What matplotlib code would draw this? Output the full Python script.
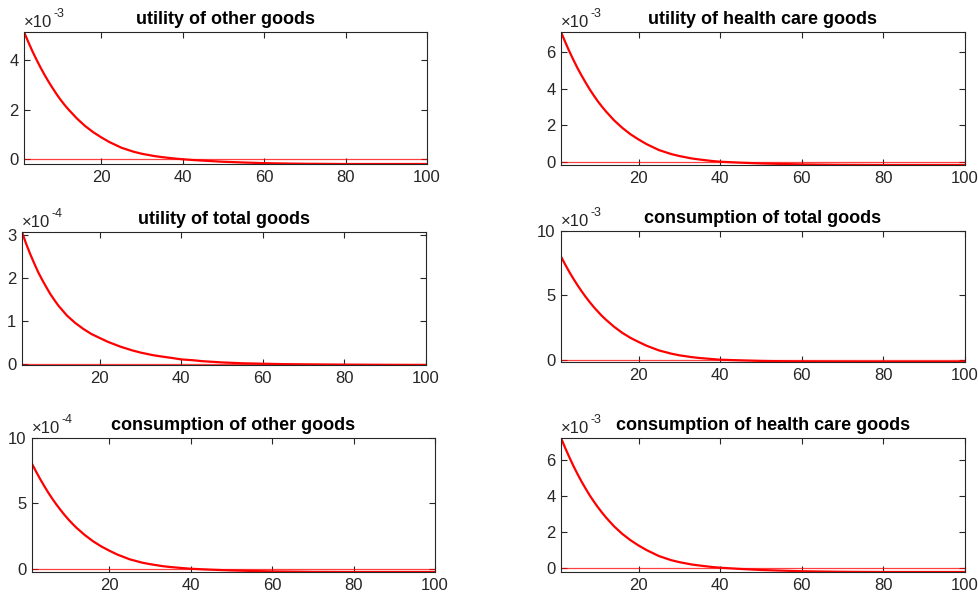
import matplotlib
matplotlib.use("Agg")
import matplotlib.pyplot as plt

plt.rcParams['font.family'] = ['Liberation Sans', 'DejaVu Sans']

periodos = [1, 2, 3, 4, 5, 6, 7, 8, 9, 10, 11, 12, 14, 16, 18, 20, 22, 25, 28, 30,
            33, 35, 38, 40, 43, 45, 50, 55, 60, 65, 70, 80, 90, 100]

# responses (in units of the axis exponent)
util_otros = [5.12, 4.74, 4.37, 4.03, 3.71, 3.41, 3.13, 2.87, 2.62, 2.39, 2.18, 1.99,
              1.64, 1.34, 1.09, 0.88, 0.69, 0.46, 0.30, 0.22, 0.13, 0.085, 0.03, 0.0,
              -0.035, -0.055, -0.10, -0.13, -0.155, -0.17, -0.18, -0.19, -0.19, -0.19]
util_salud = [7.11, 6.58, 6.07, 5.60, 5.15, 4.74, 4.35, 3.98, 3.64, 3.32, 3.03, 2.76,
              2.27, 1.86, 1.51, 1.22, 0.96, 0.64, 0.42, 0.31, 0.18, 0.12, 0.04, 0.0,
              -0.032, -0.052, -0.095, -0.122, -0.148, -0.16, -0.171, -0.18, -0.18, -0.18]
util_total = [3.07, 2.80, 2.56, 2.34, 2.13, 1.95, 1.78, 1.62, 1.48, 1.35, 1.24, 1.13,
              0.96, 0.82, 0.70, 0.61, 0.52, 0.41, 0.32, 0.27, 0.21, 0.18, 0.14, 0.11,
              0.09, 0.07, 0.04, 0.02, 0.01, 0.0, -0.005, -0.012, -0.017, -0.02]
cons_total = [8.01, 7.41, 6.84, 6.31, 5.81, 5.34, 4.90, 4.49, 4.10, 3.75, 3.41, 3.11,
              2.56, 2.09, 1.70, 1.38, 1.08, 0.72, 0.47, 0.34, 0.20, 0.13, 0.05, 0.0,
              -0.032, -0.052, -0.095, -0.122, -0.148, -0.16, -0.171, -0.18, -0.18, -0.18]
cons_otros = [8.03, 7.43, 6.86, 6.33, 5.82, 5.35, 4.91, 4.50, 4.11, 3.75, 3.42, 3.11,
              2.57, 2.10, 1.71, 1.38, 1.08, 0.72, 0.47, 0.35, 0.20, 0.13, 0.05, 0.0,
              -0.045, -0.073, -0.13, -0.17, -0.205, -0.22, -0.24, -0.25, -0.25, -0.25]
cons_salud = [7.24, 6.70, 6.19, 5.70, 5.25, 4.82, 4.43, 4.05, 3.71, 3.39, 3.09, 2.81,
              2.31, 1.89, 1.54, 1.24, 0.98, 0.65, 0.42, 0.31, 0.18, 0.12, 0.04, 0.0,
              -0.043, -0.07, -0.127, -0.163, -0.197, -0.214, -0.228, -0.24, -0.24, -0.24]

titulos = ["utility of other goods", "utility of health care goods",
           "utility of total goods", "consumption of total goods",
           "consumption of other goods", "consumption of health care goods"]
series = [util_otros, util_salud, util_total, cons_total, cons_otros, cons_salud]
exponentes = [-3, -3, -4, -3, -4, -3]
yticks = [[0, 2, 4], [0, 2, 4, 6], [0, 1, 2, 3], [0, 5, 10], [0, 5, 10], [0, 2, 4, 6]]
ytope = [None, None, None, 10, 10, None]

# posiciones de los ejes en pixeles (izq, der, arriba, abajo)
cajas = [(24, 427, 32, 164), (561, 965, 32, 165),
         (22, 426, 232, 365), (561, 965, 231, 362),
         (32, 435, 438, 572), (561, 965, 438, 572)]

W, H = 979, 599
fig = plt.figure(figsize=(W / 100, H / 100), dpi=100)
gris = '#262626'

for i in range(6):
    l, r, t, b = cajas[i]
    ax = fig.add_axes([l / W, 1 - b / H, (r - l) / W, (b - t) / H])
    y = series[i]
    ax.plot(periodos, [0] * len(periodos), color='red', lw=0.9, alpha=0.75)
    ax.plot(periodos, y, color='red', lw=1.6)
    ax.set_xlim(1, 100)
    top = ytope[i] if ytope[i] is not None else max(y)
    ax.set_ylim(min(y), top)
    ax.set_xticks([20, 40, 60, 80, 100])
    ax.set_yticks(yticks[i])
    ax.tick_params(direction='in', length=4, width=0.8, labelsize=12, colors=gris,
                   top=True, right=True, pad=4)
    for s in ax.spines.values():
        s.set_color(gris)
        s.set_linewidth(0.8)
    ax.set_title(titulos[i], fontsize=13, fontweight='bold', pad=6)
    ax.text(0, 1.015, '×10', transform=ax.transAxes, fontsize=12, color=gris,
            ha='left', va='bottom')
    ax.annotate(str(exponentes[i]), xy=(0, 1.015), xycoords='axes fraction',
                xytext=(21, 7), textcoords='offset points', fontsize=9,
                color=gris, ha='left', va='bottom')

fig.savefig('out.png', dpi=100)
